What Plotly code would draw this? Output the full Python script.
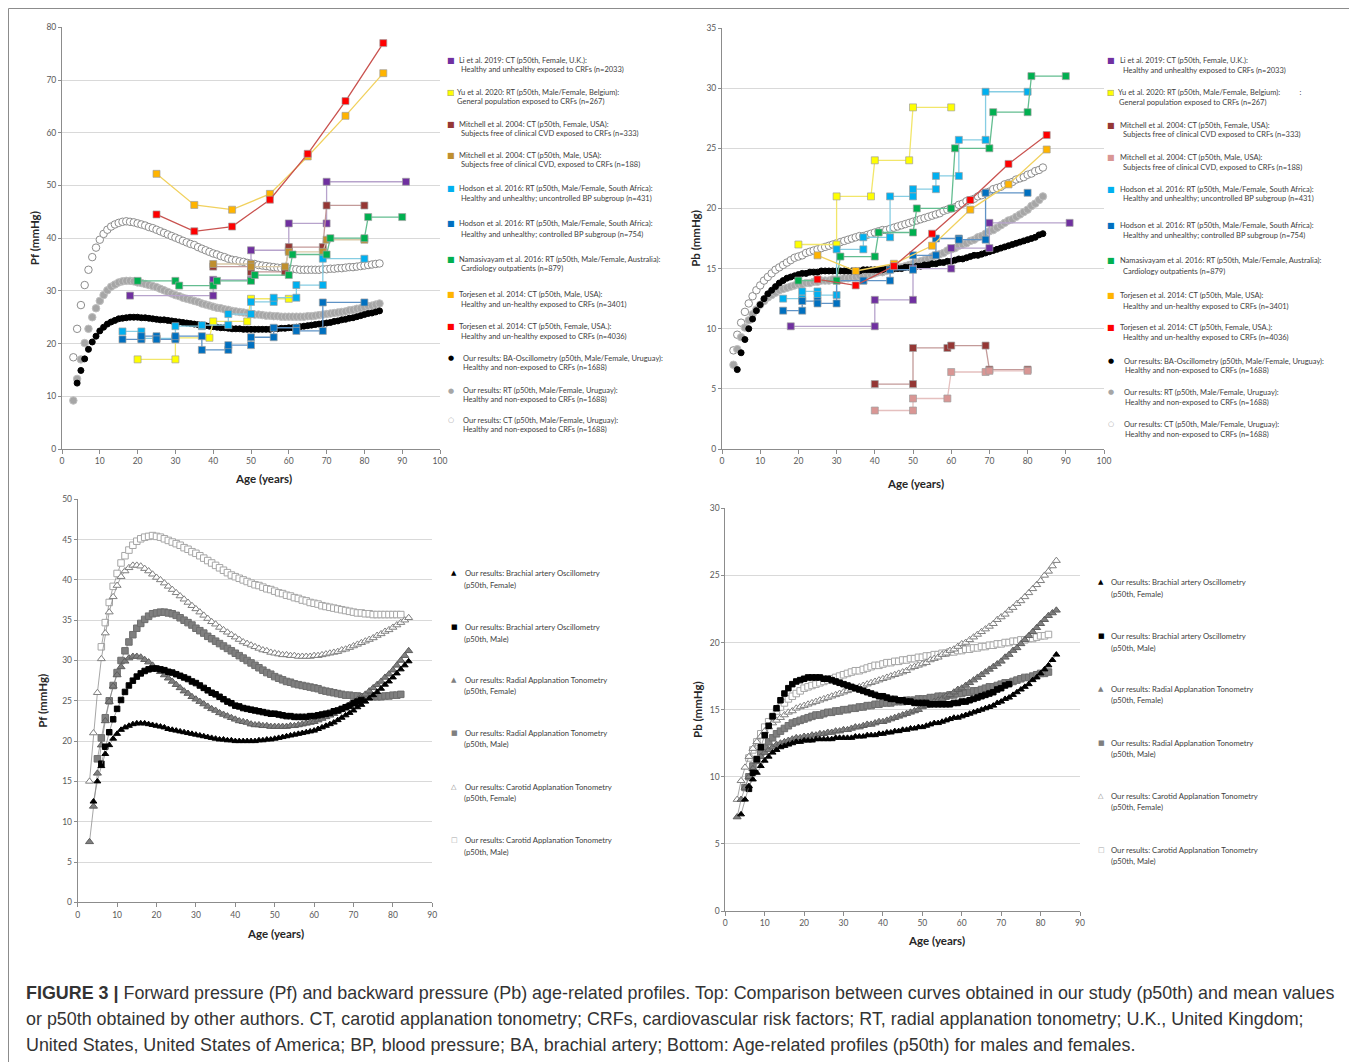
import plotly.graph_objects as go

W, H = 1349, 1054
OFF = 8  # page body margin

# ---------------- DATA ----------------
tl_ba_start = 4
tl_ba_pf = [12.5, 14.9, 17.1, 18.9, 20.3, 21.4, 22.4, 23.1, 23.7, 24.1,
            24.4, 24.7, 24.8, 24.9, 25.0, 25.0, 25.0, 24.9, 24.9, 24.8,
            24.7, 24.6, 24.5, 24.5, 24.4, 24.3, 24.2, 24.1, 24.0, 23.9,
            23.8, 23.7, 23.6, 23.5, 23.4, 23.3, 23.2, 23.1, 23.0, 23.0,
            22.9, 22.8, 22.8, 22.8, 22.7, 22.7, 22.7, 22.7, 22.7, 22.7,
            22.7, 22.7, 22.8, 22.8, 22.9, 22.9, 23.0, 23.0, 23.1, 23.2,
            23.3, 23.4, 23.5, 23.6, 23.7, 23.8, 23.9, 24.0, 24.2, 24.3,
            24.5, 24.6, 24.8, 24.9, 25.1, 25.3, 25.5, 25.7, 25.8, 26.0,
            26.2]
tl_rt_start = 3
tl_rt_pf = [9.2, 13.3, 17.0, 20.1, 22.8, 25.0, 26.7, 28.1, 29.2, 30.1,
            30.8, 31.2, 31.6, 31.8, 31.9, 31.9, 31.8, 31.6, 31.5, 31.3,
            31.1, 30.9, 30.7, 30.4, 30.1, 29.8, 29.5, 29.2, 29.0, 28.7,
            28.5, 28.3, 28.1, 27.9, 27.6, 27.4, 27.2, 27.0, 26.8, 26.7,
            26.5, 26.4, 26.2, 26.1, 26.0, 25.9, 25.8, 25.6, 25.5, 25.5,
            25.4, 25.3, 25.3, 25.2, 25.2, 25.1, 25.1, 25.1, 25.1, 25.1,
            25.1, 25.1, 25.2, 25.2, 25.3, 25.4, 25.5, 25.6, 25.7, 25.8,
            25.9, 26.0, 26.1, 26.3, 26.4, 26.6, 26.7, 26.9, 27.1, 27.2,
            27.4, 27.6]
tl_ct_start = 3
tl_ct_pf = [17.4, 22.8, 27.3, 31.1, 34.0, 36.4, 38.2, 39.7, 40.8, 41.6,
            42.2, 42.6, 42.9, 43.1, 43.2, 43.1, 43.0, 42.8, 42.6, 42.4,
            42.1, 41.9, 41.6, 41.3, 41.0, 40.7, 40.4, 40.1, 39.8, 39.5,
            39.2, 38.9, 38.7, 38.3, 38.0, 37.7, 37.4, 37.1, 36.9, 36.6,
            36.4, 36.1, 35.9, 35.8, 35.6, 35.5, 35.3, 35.2, 35.1, 34.9,
            34.8, 34.7, 34.6, 34.5, 34.4, 34.3, 34.2, 34.2, 34.1, 34.1,
            34.0, 34.0, 34.0, 34.0, 34.0, 34.0, 34.1, 34.1, 34.2, 34.2,
            34.3, 34.3, 34.4, 34.5, 34.5, 34.6, 34.7, 34.8, 34.9, 35.0,
            35.1, 35.2]

tr_ba_start = 4
tr_ba_pb = [6.6, 8.0, 9.1, 10.0, 10.8, 11.5, 12.0, 12.5, 12.9, 13.2,
            13.5, 13.8, 14.0, 14.2, 14.3, 14.4, 14.5, 14.6, 14.6, 14.7,
            14.7, 14.7, 14.8, 14.8, 14.8, 14.8, 14.8, 14.8, 14.8, 14.8,
            14.8, 14.8, 14.8, 14.9, 14.9, 14.9, 14.9, 14.9, 14.9, 15.0,
            15.0, 15.0, 15.0, 15.0, 15.1, 15.1, 15.1, 15.2, 15.2, 15.3,
            15.3, 15.4, 15.4, 15.5, 15.5, 15.6, 15.6, 15.7, 15.8, 15.8,
            15.9, 16.0, 16.1, 16.1, 16.2, 16.3, 16.4, 16.5, 16.6, 16.7,
            16.8, 16.9, 17.0, 17.1, 17.2, 17.3, 17.4, 17.5, 17.6, 17.8,
            17.9]
tr_rt_start = 3
tr_rt_pb = [7.0, 8.3, 9.3, 10.1, 10.7, 11.2, 11.6, 12.0, 12.3, 12.6,
            12.8, 13.0, 13.2, 13.3, 13.4, 13.5, 13.6, 13.7, 13.7, 13.8,
            13.8, 13.9, 13.9, 14.0, 14.0, 14.0, 14.1, 14.1, 14.1, 14.2,
            14.2, 14.3, 14.3, 14.4, 14.4, 14.5, 14.5, 14.6, 14.7, 14.7,
            14.8, 14.9, 15.0, 15.1, 15.1, 15.2, 15.3, 15.4, 15.5, 15.6,
            15.7, 15.8, 16.0, 16.1, 16.2, 16.3, 16.5, 16.6, 16.7, 16.9,
            17.0, 17.1, 17.3, 17.4, 17.6, 17.7, 17.9, 18.1, 18.2, 18.4,
            18.6, 18.8, 19.0, 19.1, 19.3, 19.5, 19.7, 19.9, 20.2, 20.4,
            20.7, 21.0]
tr_ct_start = 3
tr_ct_pb = [8.2, 9.5, 10.5, 11.4, 12.1, 12.7, 13.2, 13.6, 14.0, 14.3,
            14.6, 14.9, 15.1, 15.3, 15.5, 15.7, 15.9, 16.0, 16.1, 16.3,
            16.4, 16.5, 16.6, 16.7, 16.8, 16.9, 17.0, 17.1, 17.2, 17.3,
            17.4, 17.5, 17.6, 17.7, 17.7, 17.8, 17.9, 18.0, 18.1, 18.2,
            18.2, 18.3, 18.4, 18.5, 18.6, 18.7, 18.8, 18.9, 19.0, 19.1,
            19.2, 19.3, 19.4, 19.5, 19.6, 19.8, 19.9, 20.0, 20.1, 20.3,
            20.4, 20.6, 20.7, 20.8, 21.0, 21.1, 21.3, 21.4, 21.6, 21.7,
            21.8, 22.0, 22.1, 22.2, 22.4, 22.5, 22.6, 22.8, 22.9, 23.1,
            23.2, 23.4]

# Literature values, top-left (Pf)
li_pf_age = [18, 40, 40, 50, 50, 60, 60, 70, 70, 91]
li_pf = [29.1, 29.1, 32.1, 32.1, 37.7, 37.7, 42.8, 42.8, 50.7, 50.7]
yu_pf_age = [20, 30, 30, 39, 40, 49, 50, 60]
yu_pf = [17.0, 17.0, 21.1, 21.1, 24.2, 24.2, 28.5, 28.5]
mitf_pf_age = [40, 50, 50, 59, 60, 69, 70, 80]
mitf_pf = [34.6, 34.6, 33.6, 33.6, 38.3, 38.3, 46.2, 46.2]
mitm_pf_age = [40, 50, 50, 59, 60, 69, 70, 80]
mitm_pf = [35.1, 35.1, 34.6, 34.6, 37.4, 37.4, 39.7, 39.7]
hod_age = [16, 21, 21, 25, 25, 30, 30, 37, 37, 44, 44, 50, 50, 56, 56, 62, 62, 69, 69, 80]
hodu_pf = [22.3, 22.3, 21.0, 21.0, 21.0, 21.0, 23.3, 23.3, 23.5, 23.5,
           25.6, 25.6, 27.9, 27.9, 28.7, 28.7, 31.1, 31.1, 36.1, 36.1]
hodc_pf = [20.8, 20.8, 21.4, 21.4, 20.8, 20.8, 21.4, 21.4, 18.8, 18.8,
           19.7, 19.7, 21.2, 21.2, 23.0, 23.0, 22.4, 22.4, 27.8, 27.8]
nam_age = [20, 30, 31, 40, 41, 50, 51, 60, 61, 70, 71, 80, 81, 90]
nam_pf = [31.9, 31.9, 31.0, 31.0, 31.9, 31.9, 33.0, 33.0, 36.9, 36.9, 40.0, 40.0, 44.0, 44.0]
tor_age = [25, 35, 45, 55, 65, 75, 85]
torm_pf = [52.2, 46.3, 45.4, 48.4, 55.5, 63.2, 71.3]
torf_pf = [44.5, 41.3, 42.2, 47.3, 56.0, 66.0, 77.0]

# Literature values, top-right (Pb)
li_pb_age = [18, 40, 40, 50, 50, 60, 60, 70, 70, 91]
li_pb = [10.2, 10.2, 12.4, 12.4, 15.0, 15.0, 16.7, 16.7, 18.8, 18.8]
yu_pb_age = [20, 30, 30, 39, 40, 49, 50, 60]
yu_pb = [17.0, 17.0, 21.0, 21.0, 24.0, 24.0, 28.4, 28.4]
mitf_pb_age = [40, 50, 50, 59, 60, 69, 70, 80]
mitf_pb = [5.4, 5.4, 8.4, 8.4, 8.6, 8.6, 6.6, 6.6]
mitm_pb_age = [40, 50, 50, 59, 60, 69, 70, 80]
mitm_pb = [3.2, 3.2, 4.2, 4.2, 6.4, 6.4, 6.5, 6.5]
hodu_pb = [12.5, 12.5, 13.1, 13.1, 12.8, 12.8, 16.6, 16.6, 17.6, 17.6,
           21.0, 21.0, 21.6, 21.6, 22.7, 22.7, 25.7, 25.7, 29.7, 29.7]
hodc_pb = [11.5, 11.5, 12.3, 12.3, 12.1, 12.1, 14.0, 14.0, 14.0, 14.0,
           14.9, 14.9, 16.1, 16.1, 17.5, 17.5, 17.4, 17.4, 21.3, 21.3]
nam_pb = [14.0, 14.0, 16.0, 16.0, 18.0, 18.0, 20.0, 20.0, 25.0, 25.0, 28.0, 28.0, 31.0, 31.0]
torm_pb = [16.1, 14.8, 15.4, 16.9, 19.9, 22.0, 24.9]
torf_pb = [14.1, 13.6, 15.2, 17.9, 20.7, 23.7, 26.1]

# Bottom-left (Pf) by sex
bl_ba_f_start = 4
bl_ba_f = [12.5, 15.0, 16.9, 18.4, 19.5, 20.3, 20.9, 21.4, 21.7, 21.9,
           22.1, 22.2, 22.2, 22.2, 22.1, 22.0, 21.9, 21.8, 21.7, 21.5,
           21.4, 21.3, 21.2, 21.1, 21.0, 20.9, 20.8, 20.7, 20.6, 20.5,
           20.4, 20.3, 20.2, 20.2, 20.1, 20.1, 20.0, 20.0, 20.0, 20.0,
           20.0, 20.0, 20.1, 20.1, 20.2, 20.2, 20.3, 20.4, 20.5, 20.6,
           20.7, 20.8, 20.9, 21.0, 21.1, 21.2, 21.3, 21.5, 21.7, 21.9,
           22.1, 22.3, 22.6, 22.9, 23.2, 23.5, 23.8, 24.2, 24.5, 24.9,
           25.3, 25.7, 26.1, 26.5, 27.0, 27.4, 27.9, 28.4, 28.9, 29.4,
           29.9]
bl_ba_m_start = 6
bl_ba_m = [17.2, 19.3, 21.1, 22.7, 24.0, 25.1, 26.1, 26.9, 27.5, 28.0,
           28.4, 28.7, 28.9, 29.0, 29.0, 28.9, 28.8, 28.6, 28.5, 28.3,
           28.1, 27.9, 27.7, 27.4, 27.2, 26.9, 26.6, 26.3, 26.0, 25.8,
           25.5, 25.2, 24.9, 24.7, 24.4, 24.3, 24.1, 24.0, 23.9, 23.8,
           23.7, 23.6, 23.5, 23.4, 23.4, 23.3, 23.2, 23.1, 23.1, 23.0,
           23.0, 23.0, 23.0, 23.1, 23.1, 23.2, 23.3, 23.4, 23.5, 23.7,
           23.8, 24.0, 24.2, 24.4, 24.7, 24.9, 25.1]
bl_rt_f_start = 3
bl_rt_f = [7.5, 11.9, 16.0, 19.5, 22.5, 24.9, 26.8, 28.2, 29.2, 29.9,
           30.3, 30.5, 30.5, 30.4, 30.1, 29.8, 29.4, 29.0, 28.6, 28.2,
           27.8, 27.4, 27.0, 26.6, 26.2, 25.9, 25.5, 25.2, 24.9, 24.6,
           24.3, 24.0, 23.8, 23.5, 23.3, 23.1, 22.9, 22.7, 22.5, 22.4,
           22.3, 22.1, 22.0, 22.0, 21.9, 21.9, 21.8, 21.8, 21.8, 21.8,
           21.8, 21.9, 21.9, 22.0, 22.1, 22.2, 22.3, 22.4, 22.6, 22.8,
           23.0, 23.2, 23.4, 23.7, 23.9, 24.2, 24.5, 24.8, 25.1, 25.5,
           25.8, 26.2, 26.6, 27.0, 27.4, 27.9, 28.3, 28.8, 29.4, 30.0,
           30.6, 31.2]
bl_rt_m_start = 5
bl_rt_m = [17.8, 20.4, 22.9, 25.0, 26.9, 28.5, 30.0, 31.2, 32.3, 33.2,
           34.0, 34.6, 35.1, 35.5, 35.8, 35.9, 36.0, 36.0, 35.9, 35.8,
           35.6, 35.3, 35.0, 34.7, 34.4, 34.0, 33.7, 33.4, 33.0, 32.7,
           32.4, 32.1, 31.8, 31.5, 31.2, 30.9, 30.6, 30.3, 30.0, 29.7,
           29.4, 29.1, 28.8, 28.5, 28.3, 28.0, 27.8, 27.6, 27.4, 27.3,
           27.1, 27.0, 26.9, 26.8, 26.7, 26.6, 26.5, 26.3, 26.2, 26.1,
           26.0, 25.9, 25.8, 25.7, 25.7, 25.6, 25.6, 25.5, 25.5, 25.5,
           25.5, 25.5, 25.5, 25.6, 25.6, 25.7, 25.7, 25.8]
bl_ct_f_start = 3
bl_ct_f = [15.0, 21.0, 26.0, 30.2, 33.4, 36.0, 37.9, 39.3, 40.4, 41.1,
           41.5, 41.8, 41.8, 41.7, 41.4, 41.1, 40.7, 40.3, 40.0, 39.6,
           39.2, 38.8, 38.4, 38.0, 37.6, 37.2, 36.8, 36.4, 36.0, 35.6,
           35.2, 34.8, 34.5, 34.1, 33.8, 33.5, 33.2, 32.9, 32.6, 32.3,
           32.1, 31.9, 31.7, 31.5, 31.3, 31.2, 31.0, 30.9, 30.8, 30.7,
           30.7, 30.6, 30.6, 30.5, 30.5, 30.5, 30.5, 30.6, 30.6, 30.7,
           30.8, 30.9, 31.0, 31.1, 31.3, 31.4, 31.6, 31.8, 32.0, 32.2,
           32.4, 32.6, 32.8, 33.1, 33.3, 33.6, 33.8, 34.1, 34.4, 34.7,
           35.0, 35.3]
bl_ct_m_start = 6
bl_ct_m = [31.7, 34.7, 37.2, 39.2, 40.8, 42.1, 43.0, 43.7, 44.3, 44.8,
           45.1, 45.3, 45.4, 45.5, 45.4, 45.3, 45.1, 44.9, 44.7, 44.5,
           44.3, 44.0, 43.8, 43.5, 43.3, 43.0, 42.7, 42.4, 42.1, 41.8,
           41.5, 41.2, 40.9, 40.6, 40.4, 40.2, 40.0, 39.8, 39.6, 39.4,
           39.3, 39.1, 38.9, 38.8, 38.6, 38.4, 38.3, 38.1, 38.0, 37.8,
           37.7, 37.5, 37.4, 37.2, 37.1, 37.0, 36.8, 36.7, 36.6, 36.5,
           36.4, 36.3, 36.2, 36.1, 36.0, 35.9, 35.9, 35.8, 35.8, 35.7,
           35.7, 35.7, 35.7, 35.7, 35.7, 35.7, 35.7]

# Bottom-right (Pb) by sex
br_ba_f_start = 4
br_ba_f = [7.2, 8.3, 9.3, 9.8, 10.3, 10.8, 11.2, 11.5, 11.8, 12.0,
           12.2, 12.3, 12.4, 12.5, 12.6, 12.6, 12.7, 12.7, 12.7, 12.8,
           12.8, 12.8, 12.8, 12.8, 12.9, 12.9, 12.9, 12.9, 12.9, 13.0,
           13.0, 13.0, 13.1, 13.1, 13.1, 13.2, 13.2, 13.3, 13.3, 13.4,
           13.4, 13.5, 13.5, 13.6, 13.6, 13.7, 13.7, 13.8, 13.9, 14.0,
           14.0, 14.1, 14.2, 14.3, 14.4, 14.4, 14.5, 14.6, 14.7, 14.8,
           14.9, 15.0, 15.1, 15.2, 15.3, 15.5, 15.6, 15.8, 15.9, 16.1,
           16.3, 16.5, 16.7, 16.9, 17.2, 17.4, 17.7, 18.0, 18.3, 18.7,
           19.1]
br_ba_m_start = 6
br_ba_m = [9.1, 10.3, 11.3, 12.2, 13.1, 13.8, 14.5, 15.1, 15.7, 16.2,
           16.6, 16.9, 17.1, 17.2, 17.3, 17.4, 17.4, 17.4, 17.4, 17.3,
           17.3, 17.2, 17.1, 17.0, 16.9, 16.8, 16.7, 16.6, 16.5, 16.4,
           16.3, 16.2, 16.1, 16.0, 16.0, 15.9, 15.8, 15.8, 15.7, 15.7,
           15.6, 15.6, 15.5, 15.5, 15.5, 15.5, 15.4, 15.4, 15.4, 15.4,
           15.4, 15.4, 15.5, 15.5, 15.6, 15.6, 15.7, 15.8, 15.9, 16.0,
           16.1, 16.2, 16.3, 16.5, 16.6, 16.8, 16.9]
br_rt_f_start = 3
br_rt_f = [7.0, 8.3, 9.2, 10.0, 10.6, 11.1, 11.5, 11.8, 12.0, 12.2,
           12.4, 12.5, 12.6, 12.7, 12.8, 12.9, 12.9, 13.0, 13.0, 13.1,
           13.1, 13.2, 13.2, 13.3, 13.3, 13.4, 13.4, 13.5, 13.5, 13.6,
           13.7, 13.7, 13.8, 13.9, 13.9, 14.0, 14.1, 14.1, 14.2, 14.3,
           14.4, 14.5, 14.6, 14.7, 14.8, 14.9, 15.0, 15.2, 15.3, 15.4,
           15.6, 15.7, 15.8, 16.0, 16.1, 16.3, 16.5, 16.6, 16.8, 17.0,
           17.2, 17.4, 17.6, 17.8, 18.0, 18.2, 18.4, 18.6, 18.9, 19.1,
           19.4, 19.6, 19.9, 20.2, 20.5, 20.8, 21.1, 21.4, 21.7, 22.0,
           22.2, 22.4]
br_rt_m_start = 5
br_rt_m = [9.2, 10.0, 10.8, 11.3, 11.8, 12.2, 12.6, 12.9, 13.2, 13.4,
           13.6, 13.8, 14.0, 14.1, 14.2, 14.3, 14.4, 14.5, 14.6, 14.6,
           14.7, 14.8, 14.8, 14.9, 14.9, 15.0, 15.0, 15.1, 15.1, 15.2,
           15.2, 15.3, 15.3, 15.4, 15.4, 15.5, 15.5, 15.5, 15.6, 15.6,
           15.6, 15.7, 15.7, 15.7, 15.8, 15.8, 15.8, 15.9, 15.9, 16.0,
           16.0, 16.0, 16.1, 16.1, 16.2, 16.2, 16.3, 16.3, 16.4, 16.4,
           16.5, 16.6, 16.7, 16.7, 16.8, 16.9, 17.0, 17.0, 17.1, 17.2,
           17.3, 17.4, 17.4, 17.5, 17.6, 17.7, 17.7, 17.8]
br_ct_f_start = 3
br_ct_f = [8.3, 9.7, 10.7, 11.5, 12.1, 12.6, 13.0, 13.4, 13.7, 14.0,
           14.2, 14.4, 14.6, 14.8, 14.9, 15.1, 15.2, 15.3, 15.4, 15.5,
           15.6, 15.7, 15.8, 15.9, 16.0, 16.1, 16.2, 16.3, 16.4, 16.5,
           16.6, 16.7, 16.8, 16.9, 17.0, 17.1, 17.2, 17.3, 17.4, 17.5,
           17.6, 17.7, 17.8, 17.9, 18.1, 18.2, 18.3, 18.4, 18.5, 18.7,
           18.8, 18.9, 19.1, 19.2, 19.4, 19.5, 19.7, 19.9, 20.0, 20.2,
           20.4, 20.6, 20.8, 21.0, 21.2, 21.4, 21.7, 21.9, 22.1, 22.4,
           22.6, 22.9, 23.1, 23.4, 23.7, 24.0, 24.3, 24.6, 25.0, 25.3,
           25.7, 26.1]
br_ct_m_start = 6
br_ct_m = [11.4, 12.0, 12.6, 13.2, 13.7, 14.1, 14.5, 14.9, 15.2, 15.5,
           15.8, 16.0, 16.2, 16.4, 16.6, 16.7, 16.8, 16.9, 17.0, 17.1,
           17.2, 17.3, 17.4, 17.5, 17.6, 17.7, 17.8, 17.9, 17.9, 18.0,
           18.1, 18.2, 18.3, 18.3, 18.4, 18.5, 18.5, 18.6, 18.6, 18.7,
           18.7, 18.8, 18.8, 18.9, 18.9, 19.0, 19.0, 19.1, 19.1, 19.2,
           19.2, 19.3, 19.3, 19.4, 19.4, 19.5, 19.5, 19.6, 19.6, 19.7,
           19.7, 19.8, 19.8, 19.9, 19.9, 20.0, 20.0, 20.1, 20.1, 20.2,
           20.2, 20.3, 20.3, 20.4, 20.5, 20.5, 20.6]

# Legend texts
top_legend = [
    ("Li et al. 2019: CT (p50th, Female, U.K.):", "Healthy and unhealthy exposed to CRFs (n=2033)"),
    ("Yu et al. 2020: RT (p50th, Male/Female, Belgium):", "General population exposed to CRFs (n=267)"),
    ("Mitchell et al. 2004: CT (p50th, Female, USA):", "Subjects free of clinical CVD exposed to CRFs (n=333)"),
    ("Mitchell et al. 2004: CT (p50th, Male, USA):", "Subjects free of clinical CVD, exposed to CRFs (n=188)"),
    ("Hodson et al. 2016: RT (p50th, Male/Female, South Africa):", "Healthy and unhealthy; uncontrolled BP subgroup (n=431)"),
    ("Hodson et al. 2016: RT (p50th, Male/Female, South Africa):", "Healthy and unhealthy; controlled BP subgroup (n=754)"),
    ("Namasivayam et al. 2016: RT (p50th, Male/Female, Australia):", "Cardiology outpatients (n=879)"),
    ("Torjesen et al. 2014: CT (p50th, Male, USA):", "Healthy and un-healthy exposed to CRFs (n=3401)"),
    ("Torjesen et al. 2014: CT (p50th, Female, USA.):", "Healthy and un-healthy exposed to CRFs (n=4036)"),
    ("Our results: BA-Oscillometry (p50th, Male/Female, Uruguay):", "Healthy and non-exposed to CRFs (n=1688)"),
    ("Our results: RT (p50th, Male/Female, Uruguay):", "Healthy and non-exposed to CRFs (n=1688)"),
    ("Our results: CT (p50th, Male/Female, Uruguay):", "Healthy and non-exposed to CRFs (n=1688)"),
]
bottom_legend = [
    ("Our results: Brachial artery Oscillometry", "(p50th, Female)"),
    ("Our results: Brachial artery Oscillometry", "(p50th, Male)"),
    ("Our results: Radial Applanation Tonometry", "(p50th, Female)"),
    ("Our results: Radial Applanation Tonometry", "(p50th, Male)"),
    ("Our results: Carotid Applanation Tonometry", "(p50th, Female)"),
    ("Our results: Carotid Applanation Tonometry", "(p50th, Male)"),
]
caption_lines = [
    "<b>FIGURE 3 |</b> Forward pressure (Pf) and backward pressure (Pb) age-related profiles. Top: Comparison between curves obtained in our study (p50th) and mean values",
    "or p50th obtained by other authors. CT, carotid applanation tonometry; CRFs, cardiovascular risk factors; RT, radial applanation tonometry; U.K., United Kingdom;",
    "United States, United States of America; BP, blood pressure; BA, brachial artery; Bottom: Age-related profiles (p50th) for males and females.",
]

# ---------------- STYLE ----------------
F = "Lato"
AX = "#8C8C8C"
GRID = "#D9D9D9"
C_LI, C_YU, C_MITF, C_MITM_L, C_MITM_R = "#7030A0", "#FFFF00", "#953735", "#BF8F2F", "#D99694"
C_HODU, C_HODC, C_NAM, C_TORM, C_TORF = "#00B0F0", "#0070C0", "#00B050", "#FFB400", "#FF0000"
L_LI, L_YU, L_MITF, L_MITM_L, L_MITM_R = "#B7A3CC", "#F2E66A", "#C39A99", "#D9C9A8", "#E5C0BF"
L_HODU, L_HODC, L_NAM, L_TORM, L_TORF = "#86CDE3", "#5F93C6", "#63BD90", "#F1D15E", "#C9524F"


def px(x):
    return (x - OFF) / W


def py(y):
    return 1 - (y - OFF) / H


fig = go.Figure()


def ours_circles(start, vals, xa, ya, fill, edge, size):
    fig.add_trace(go.Scatter(
        x=list(range(start, start + len(vals))), y=vals, xaxis=xa, yaxis=ya,
        mode="markers", showlegend=False, hoverinfo="x+y",
        marker=dict(symbol="circle", size=size, color=fill, line=dict(color=edge, width=1))))


def lit(x, y, xa, ya, color, lcolor, edge="#A0A0A0"):
    fig.add_trace(go.Scatter(
        x=x, y=y, xaxis=xa, yaxis=ya, mode="lines+markers", showlegend=False,
        line=dict(color=lcolor, width=1.3),
        marker=dict(symbol="square", size=7, color=color, line=dict(color=edge, width=0.7))))


def sex_curve(start, vals, xa, ya, symbol, fill, edge, size):
    fig.add_trace(go.Scatter(
        x=list(range(start, start + len(vals))), y=vals, xaxis=xa, yaxis=ya,
        mode="lines+markers", showlegend=False,
        line=dict(color="#7F7F7F", width=0.7),
        marker=dict(symbol=symbol, size=size, color=fill, line=dict(color=edge, width=1))))


for xa, ya, ba, rt, ct, s in [("x", "y", tl_ba_pf, tl_rt_pf, tl_ct_pf, (tl_ba_start, tl_rt_start, tl_ct_start)),
                              ("x2", "y2", tr_ba_pb, tr_rt_pb, tr_ct_pb, (tr_ba_start, tr_rt_start, tr_ct_start))]:
    ours_circles(s[2], ct, xa, ya, "white", "#8C8C8C", 7.5)
    ours_circles(s[1], rt, xa, ya, "#A6A6A6", "#BFBFBF", 7.5)
    ours_circles(s[0], ba, xa, ya, "black", "black", 6)

lit(li_pf_age, li_pf, "x", "y", C_LI, L_LI)
lit(yu_pf_age, yu_pf, "x", "y", C_YU, L_YU)
lit(mitf_pf_age, mitf_pf, "x", "y", C_MITF, L_MITF)
lit(mitm_pf_age, mitm_pf, "x", "y", C_MITM_L, L_MITM_L)
lit(hod_age, hodu_pf, "x", "y", C_HODU, L_HODU)
lit(hod_age, hodc_pf, "x", "y", C_HODC, L_HODC)
lit(nam_age, nam_pf, "x", "y", C_NAM, L_NAM)
lit(tor_age, torm_pf, "x", "y", C_TORM, L_TORM)
lit(tor_age, torf_pf, "x", "y", C_TORF, L_TORF)

lit(li_pb_age, li_pb, "x2", "y2", C_LI, L_LI)
lit(yu_pb_age, yu_pb, "x2", "y2", C_YU, L_YU)
lit(mitf_pb_age, mitf_pb, "x2", "y2", C_MITF, L_MITF)
lit(mitm_pb_age, mitm_pb, "x2", "y2", C_MITM_R, L_MITM_R)
lit(hod_age, hodu_pb, "x2", "y2", C_HODU, L_HODU)
lit(hod_age, hodc_pb, "x2", "y2", C_HODC, L_HODC)
lit(nam_age, nam_pb, "x2", "y2", C_NAM, L_NAM)
lit(tor_age, torm_pb, "x2", "y2", C_TORM, L_TORM)
lit(tor_age, torf_pb, "x2", "y2", C_TORF, L_TORF)

for xa, ya, d in [("x3", "y3", [(bl_ct_m_start, bl_ct_m), (bl_ct_f_start, bl_ct_f), (bl_rt_m_start, bl_rt_m),
                                 (bl_rt_f_start, bl_rt_f), (bl_ba_m_start, bl_ba_m), (bl_ba_f_start, bl_ba_f)]),
                  ("x4", "y4", [(br_ct_m_start, br_ct_m), (br_ct_f_start, br_ct_f), (br_rt_m_start, br_rt_m),
                                 (br_rt_f_start, br_rt_f), (br_ba_m_start, br_ba_m), (br_ba_f_start, br_ba_f)])]:
    sex_curve(*d[0], xa, ya, "square", "white", "#A6A6A6", 6.5)
    sex_curve(*d[1], xa, ya, "triangle-up", "white", "#7F7F7F", 7)
    sex_curve(*d[2], xa, ya, "square", "#7F7F7F", "#6E6E6E", 6.5)
    sex_curve(*d[3], xa, ya, "triangle-up", "#7F7F7F", "#5E5E5E", 7)
    sex_curve(*d[4], xa, ya, "square", "black", "black", 5.5)
    sex_curve(*d[5], xa, ya, "triangle-up", "black", "black", 6)


def xaxis(x0, x1, anchor, rng):
    return dict(domain=[px(x0), px(x1)], anchor=anchor, range=rng, dtick=10, tick0=0,
                showgrid=False, zeroline=False, showline=True, linecolor=AX, linewidth=1,
                ticks="outside", ticklen=4, tickcolor=AX,
                tickfont=dict(family=F, size=8.5, color="#595959"),
                automargin=False, fixedrange=True)


def yaxis(y0, y1, anchor, rng, dtick, title, standoff):
    return dict(domain=[py(y0), py(y1)], anchor=anchor, range=rng, dtick=dtick, tick0=0,
                showgrid=True, gridcolor=GRID, gridwidth=1, zeroline=False,
                showline=True, linecolor=AX, linewidth=1,
                ticks="outside", ticklen=3, tickcolor=AX,
                tickfont=dict(family=F, size=8.5, color="#595959"),
                title=dict(text="<b>%s</b>" % title, font=dict(family=F, size=11.5, color="#262626"),
                           standoff=standoff),
                automargin=False, fixedrange=True)


fig.update_layout(
    width=W, height=H, margin=dict(l=0, r=0, t=0, b=0),
    paper_bgcolor="white", plot_bgcolor="white", showlegend=False,
    xaxis=xaxis(62, 440, "y", [0, 100]),
    yaxis=yaxis(449, 27.3, "x", [0, 80], 10, "Pf (mmHg)", 4),
    xaxis2=xaxis(722, 1104, "y2", [0, 100]),
    yaxis2=yaxis(449, 28, "x2", [0, 35], 5, "Pb (mmHg)", 3),
    xaxis3=xaxis(77.7, 432.3, "y3", [0, 90]),
    yaxis3=yaxis(902.3, 499.3, "x3", [0, 50], 5, "Pf (mmHg)", 12),
    xaxis4=xaxis(725.3, 1080, "y4", [0, 90]),
    yaxis4=yaxis(911, 508.3, "x4", [0, 30], 5, "Pb (mmHg)", 4),
)

ann = []


def text(x, y, s, size=7.5, color="#404040", family=F, anchor="left"):
    ann.append(dict(x=px(x), y=py(y), xref="paper", yref="paper", text=s, showarrow=False,
                    xanchor=anchor, yanchor="middle", font=dict(family=family, size=size, color=color)))


def sym(x, y, glyph, color, size=8):
    ann.append(dict(x=px(x), y=py(y), xref="paper", yref="paper", text=glyph, showarrow=False,
                    xanchor="center", yanchor="middle",
                    font=dict(family="DejaVu Sans", size=size, color=color)))


# x-axis titles
for (tx, ty) in [(263, 478), (915, 483), (275, 933), (936, 940)]:
    text(tx, ty, "<b>Age (years)</b>", size=11.5, color="#262626", anchor="center")

tl_y1 = [60.7, 92.7, 124, 156, 188.3, 223.3, 259.3, 295, 326, 358.3, 390.7, 420]
tl_y2 = [69.5, 101.5, 133, 165, 198, 234.3, 268.3, 304.3, 336, 367.3, 399.3, 429]
tr_y1 = [60.7, 92.3, 125.7, 157.7, 189, 225.7, 261, 296, 327.7, 361, 392.3, 424]
tr_y2 = [70, 102.3, 135, 167.3, 198.3, 235.7, 271.7, 306, 337.7, 370.7, 402.7, 434]
left_cols = [C_LI, C_YU, C_MITF, C_MITM_L, C_HODU, C_HODC, C_NAM, C_TORM, C_TORF]
right_cols = [C_LI, C_YU, C_MITF, C_MITM_R, C_HODU, C_HODC, C_NAM, C_TORM, C_TORF]

for (sx, tx1, tx2, ys1, ys2, cols, extra) in [(451, 457, 459, tl_y1, tl_y2, left_cols, ""),
                                               (1110.5, 1117.5, 1121, tr_y1, tr_y2, right_cols, "          :")]:
    for i, (l1, l2) in enumerate(top_legend):
        if i < 9:
            sym(sx, ys1[i], "■", cols[i], 8)
            if i == 1:
                sym(sx, ys1[i], "□", "#A0A0A0", 8)
        elif i == 9:
            sym(sx, ys1[i], "●", "black", 7)
        elif i == 10:
            sym(sx, ys1[i], "●", "#A6A6A6", 7)
        else:
            sym(sx, ys1[i], "○", "#A6A6A6", 7)
        a1 = tx1 + (4 if i >= 9 else (-2 if i == 1 else 0))
        a2 = tx2 + (2 if i >= 9 else (-4 if i == 1 else 0))
        text(a1, ys1[i], l1 + (extra if i == 1 else ""))
        text(a2, ys2[i], l2)

bl_y1 = [573.3, 626.7, 680, 733.3, 786.7, 840]
bl_y2 = [585, 639, 691, 744, 798.3, 852.3]
br_y1 = [582, 636, 689, 743, 796, 850]
br_y2 = [594, 648, 700, 754, 807, 861]
b_syms = [("▲", "black"), ("■", "black"), ("▲", "#7F7F7F"), ("■", "#7F7F7F"), ("△", "#7F7F7F"), ("□", "#A6A6A6")]
for (sx, tx1, tx2, ys1, ys2) in [(454, 462.5, 461.7, bl_y1, bl_y2), (1101, 1109, 1109, br_y1, br_y2)]:
    for i, (l1, l2) in enumerate(bottom_legend):
        sym(sx, ys1[i], b_syms[i][0], b_syms[i][1], 7)
        text(tx1, ys1[i], l1, size=7.7)
        text(tx2, ys2[i], l2, size=7.7)

for i, line in enumerate(caption_lines):
    text(23.5, 993 + 25.8 * i, line, size=17.9, color="#333333", family="Liberation Sans")

fig.update_layout(annotations=ann)

# outer frame
fig.add_shape(type="rect", xref="paper", yref="paper", x0=px(8.5), x1=px(1355), y0=-0.05, y1=py(8.5),
              line=dict(color="#8C8C8C", width=1), fillcolor="rgba(0,0,0,0)", layer="below")

fig.write_html("out.html")
